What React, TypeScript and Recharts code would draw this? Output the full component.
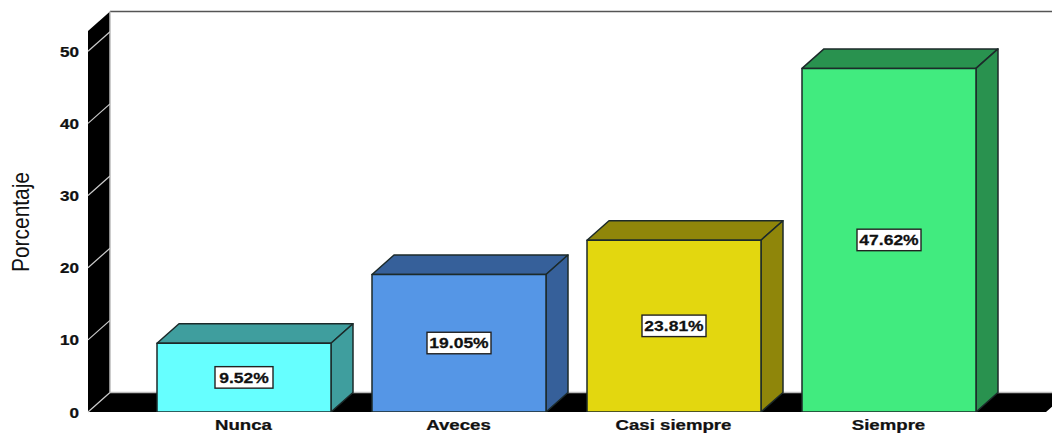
import { BarChart, Bar, XAxis, YAxis, ReferenceArea, LabelList } from "recharts";

const categories = ["Nunca", "Aveces", "Casi siempre", "Siempre"];
const percentages = [9.52, 19.05, 23.81, 47.62];
const yTicks = [0, 10, 20, 30, 40, 50];
const yMax = 52.8;

const frontColors = ["#66FFFF", "#5596E6", "#E3D70F", "#41EB7F"];
const sideColors = ["#3F9E9E", "#36609A", "#8F860A", "#29924F"];

const rows = categories.map((name, i) => ({ name, value: percentages[i] }));

// 3D extrusion shared by the bars and the wall/floor box
const DX = 22;
const DY = 19.5;
// gap between the plot ends and the first/last category band
const PAD_LEFT = 48;
const PAD_RIGHT = 50;
const LABEL_FONT = "'Liberation Sans', Arial, sans-serif";

function pts(list: number[][]) {
  return list.map((p) => p.join(",")).join(" ");
}

// Wide bold label: the font is stretched horizontally
function WideText({ x, y, anchor, scale, size = 14, children }: any) {
  return (
    <text
      transform={`translate(${x} ${y}) scale(${scale} 1)`}
      textAnchor={anchor}
      fontFamily={LABEL_FONT}
      fontWeight={700}
      fontSize={size}
      fill="#111"
      stroke="#111"
      strokeWidth={0.25}
    >
      {children}
    </text>
  );
}

function Box3D(props: any) {
  const { x, y, width, height, index } = props;
  const r = x + width;
  const b = y + height;
  const side = sideColors[index];
  return (
    <g stroke="#1c2a2a" strokeWidth={1.5} strokeLinejoin="round">
      <polygon fill={side} points={pts([[x, y], [x + DX, y - DY], [r + DX, y - DY], [r, y]])} />
      <polygon fill={side} points={pts([[r, y], [r + DX, y - DY], [r + DX, b - DY], [r, b]])} />
      <rect x={x} y={y} width={width} height={height} fill={frontColors[index]} />
    </g>
  );
}

// Black side wall and floor, with the thin back edges
function Room(props: any) {
  const { x, y, width, height } = props;
  const l = x - PAD_LEFT;
  const r = x + width + PAD_RIGHT;
  const b = y + height;
  return (
    <g>
      <polygon fill="#000" points={pts([[l, y], [l + DX, y - DY], [l + DX, b - DY], [l, b]])} />
      <polygon fill="#000" points={pts([[l, b], [l + DX, b - DY], [r + DX, b - DY], [r, b]])} />
      <line x1={l + DX} y1={y - DY} x2={r + DX} y2={y - DY} stroke="#555" strokeWidth={1.5} />
      <line x1={l + DX} y1={y - DY} x2={l + DX} y2={b - DY} stroke="#bbb" strokeWidth={1.5} />
      <line x1={l + DX} y1={b - DY} x2={r + DX} y2={b - DY} stroke="#bbb" strokeWidth={1.5} />
    </g>
  );
}

function YTick(props: any) {
  const { x, y, payload } = props;
  return (
    <g>
      <line x1={x} y1={y} x2={x + DX} y2={y - DY} stroke="#ccc" strokeWidth={1.2} />
      <WideText x={x - 9} y={y + 5.5} anchor="end" scale={1.22}>
        {payload.value}
      </WideText>
    </g>
  );
}

function XTick(props: any) {
  const { x, y, payload } = props;
  return (
    <WideText x={x} y={y + 18} anchor="middle" scale={1.33}>
      {payload.value}
    </WideText>
  );
}

function ValueTag(props: any) {
  const { x, y, width, height, value } = props;
  const text = `${Number(value).toFixed(2)}%`;
  const w = text.length * 6 + 28;
  const cx = x + width / 2;
  const cy = y + height / 2;
  return (
    <g>
      <rect x={cx - w / 2} y={cy - 11} width={w} height={21.5} fill="#fff" stroke="#222" strokeWidth={1.4} />
      <WideText x={cx} y={cy + 5} anchor="middle" scale={1.25}>
        {text}
      </WideText>
    </g>
  );
}

function AxisTitle() {
  return (
    <text
      transform="translate(29 222) rotate(-90)"
      textAnchor="middle"
      fontFamily={LABEL_FONT}
      fontSize={24}
      textLength={100}
      lengthAdjust="spacingAndGlyphs"
      fill="#111"
    >
      Porcentaje
    </text>
  );
}

export default function App() {
  return (
    <div style={{ position: "absolute", left: 0, top: 0, width: 1052, height: 433, background: "#fff" }}>
      <BarChart
        width={1052}
        height={433}
        data={rows}
        barSize={174}
        margin={{ top: 31, right: 6, bottom: 0, left: 0 }}
      >
        <XAxis
          dataKey="name"
          height={21}
          interval={0}
          padding={{ left: PAD_LEFT, right: PAD_RIGHT }}
          axisLine={false}
          tickLine={false}
          tickSize={0}
          tickMargin={0}
          tick={<XTick />}
        />
        <YAxis
          width={88}
          domain={[0, yMax]}
          ticks={yTicks}
          allowDataOverflow
          axisLine={false}
          tickLine={false}
          tickSize={0}
          tickMargin={0}
          tick={<YTick />}
        />
        <ReferenceArea y1={0} y2={yMax} shape={<Room />} ifOverflow="visible" />
        <Bar dataKey="value" shape={<Box3D />} isAnimationActive={false}>
          <LabelList dataKey="value" content={<ValueTag />} />
        </Bar>
        <AxisTitle />
      </BarChart>
    </div>
  );
}
